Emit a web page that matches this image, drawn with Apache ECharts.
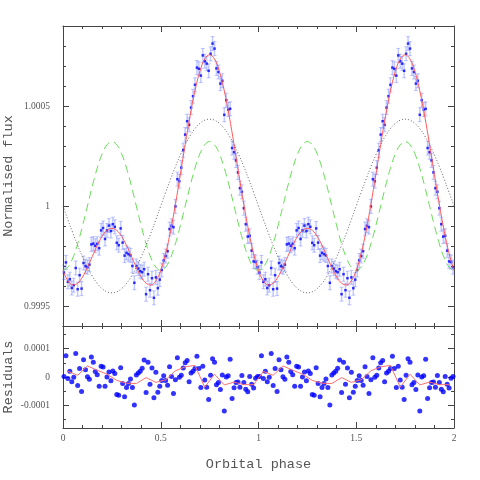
<!DOCTYPE html>
<html>
<head>
<meta charset="utf-8">
<script src="https://cdn.jsdelivr.net/npm/echarts@6/dist/echarts.min.js"></script>
<style>
  html, body { margin: 0; padding: 0; background: #fff; }
  #chart { width: 480px; height: 480px; }
</style>
</head>
<body>
<div id="chart"></div>
<script>
// one orbital cycle (phase 0..1); the plot shows it twice (0..2)
const MODEL_PHASE = [0, 0.025, 0.05, 0.075, 0.1, 0.125, 0.15, 0.175, 0.2, 0.225, 0.25,
  0.275, 0.3, 0.325, 0.35, 0.375, 0.4, 0.425, 0.45, 0.475, 0.5,
  0.525, 0.55, 0.575, 0.6, 0.625, 0.65, 0.675, 0.7, 0.725, 0.75,
  0.775, 0.8, 0.825, 0.85, 0.875, 0.9, 0.925, 0.95, 0.975, 1]

// full model (red)
const MODEL_TOTAL = [0.999678, 0.999626, 0.999605, 0.999614, 0.999645, 0.999693, 0.999748, 0.999803, 0.999848, 0.999878, 0.999888,
  0.999878, 0.999848, 0.999803, 0.999748, 0.999693, 0.999645, 0.999614, 0.999605, 0.999626, 0.999678,
  0.999762, 0.999874, 1.000008, 1.000156, 1.000307, 1.000451, 1.000576, 1.000673, 1.000735, 1.000756,
  1.000735, 1.000673, 1.000576, 1.000451, 1.000307, 1.000156, 1.000008, 0.999874, 0.999762, 0.999678]

// ellipsoidal component (green dashed)
const MODEL_ELLIPSOIDAL = [0.999678, 0.999694, 0.999740, 0.999811, 0.999901, 1.000000, 1.000100, 1.000189, 1.000261, 1.000306, 1.000322,
  1.000306, 1.000261, 1.000189, 1.000100, 1.000000, 0.999901, 0.999811, 0.999740, 0.999694, 0.999678,
  0.999694, 0.999740, 0.999811, 0.999901, 1.000000, 1.000100, 1.000189, 1.000261, 1.000306, 1.000322,
  1.000306, 1.000261, 1.000189, 1.000100, 1.000000, 0.999901, 0.999811, 0.999740, 0.999694, 0.999678]

// reflection / beaming component (black dotted)
const MODEL_REFLECTION = [1.000000, 0.999932, 0.999866, 0.999803, 0.999745, 0.999693, 0.999649, 0.999613, 0.999587, 0.999571, 0.999566,
  0.999571, 0.999587, 0.999613, 0.999649, 0.999693, 0.999745, 0.999803, 0.999866, 0.999932, 1.000000,
  1.000068, 1.000134, 1.000197, 1.000255, 1.000307, 1.000351, 1.000387, 1.000413, 1.000429, 1.000434,
  1.000429, 1.000413, 1.000387, 1.000351, 1.000307, 1.000255, 1.000197, 1.000134, 1.000068, 1.000000]

const DATA_PHASE = [0.005, 0.015, 0.025, 0.035, 0.045, 0.055, 0.065, 0.075, 0.085, 0.095,
  0.105, 0.115, 0.125, 0.135, 0.145, 0.155, 0.165, 0.175, 0.185, 0.195,
  0.205, 0.215, 0.225, 0.235, 0.245, 0.255, 0.265, 0.275, 0.285, 0.295,
  0.305, 0.315, 0.325, 0.335, 0.345, 0.355, 0.365, 0.375, 0.385, 0.395,
  0.405, 0.415, 0.425, 0.435, 0.445, 0.455, 0.465, 0.475, 0.485, 0.495,
  0.505, 0.515, 0.525, 0.535, 0.545, 0.555, 0.565, 0.575, 0.585, 0.595,
  0.605, 0.615, 0.625, 0.635, 0.645, 0.655, 0.665, 0.675, 0.685, 0.695,
  0.705, 0.715, 0.725, 0.735, 0.745, 0.755, 0.765, 0.775, 0.785, 0.795,
  0.805, 0.815, 0.825, 0.835, 0.845, 0.855, 0.865, 0.875, 0.885, 0.895,
  0.905, 0.915, 0.925, 0.935, 0.945, 0.955, 0.965, 0.975, 0.985, 0.995]

const FLUX = [0.999667, 0.999718, 0.999621, 0.999634, 0.999590, 0.999604, 0.999690, 0.999584, 0.999654, 0.999587,
  0.999715, 0.999699, 0.999694, 0.999707, 0.999808, 0.999812, 0.999801, 0.999811, 0.999789, 0.999878,
  0.999890, 0.999835, 0.999878, 0.999902, 0.999875, 0.999909, 0.999896, 0.999816, 0.999804, 0.999888,
  0.999817, 0.999752, 0.999766, 0.999759, 0.999753, 0.999700, 0.999616, 0.999700, 0.999687, 0.999674,
  0.999669, 0.999684, 0.999559, 0.999659, 0.999579, 0.999639, 0.999541, 0.999643, 0.999589, 0.999632,
  0.999680, 0.999728, 0.999750, 0.999774, 0.999885, 0.999901, 0.999894, 0.999998, 1.000134, 1.000124,
  1.000192, 1.000279, 1.000357, 1.000424, 1.000406, 1.000492, 1.000549, 1.000606, 1.000692, 1.000686,
  1.000652, 1.000753, 1.000724, 1.000712, 1.000676, 1.000761, 1.000812, 1.000787, 1.000688, 1.000670,
  1.000612, 1.000626, 1.000456, 1.000529, 1.000482, 1.000486, 1.000290, 1.000269, 1.000228, 1.000168,
  1.000089, 1.000071, 0.999989, 0.999909, 0.999847, 0.999851, 0.999777, 0.999723, 0.999720, 0.999694]

const FLUX_ERR = 0.000035

const RESIDUALS = [0.000002, 0.000075, -0.000005, 0.000020, -0.000017, -0.000001, 0.000083, -0.000030, 0.000030, -0.000051,
  0.000061, 0.000026, 0.000001, -0.000008, 0.000071, 0.000052, 0.000019, 0.000008, -0.000033, 0.000038,
  0.000035, -0.000033, 0.000000, 0.000018, -0.000013, 0.000021, 0.000012, -0.000062, -0.000064, 0.000033,
  -0.000023, -0.000070, -0.000037, -0.000023, -0.000007, -0.000037, -0.000099, 0.000007, 0.000014, 0.000020,
  0.000031, 0.000060, -0.000055, 0.000052, -0.000026, 0.000032, -0.000073, 0.000017, -0.000054, -0.000033,
  -0.000012, 0.000004, -0.000012, -0.000029, 0.000036, 0.000002, -0.000058, -0.000010, 0.000068, -0.000001,
  0.000006, 0.000032, 0.000050, 0.000058, -0.000017, 0.000014, 0.000020, 0.000030, 0.000073, 0.000030,
  -0.000037, 0.000038, -0.000011, -0.000036, -0.000079, 0.000006, 0.000064, 0.000052, -0.000027, -0.000019,
  -0.000044, 0.000007, -0.000120, 0.000000, 0.000004, 0.000063, -0.000076, -0.000038, -0.000019, -0.000018,
  -0.000036, 0.000005, -0.000019, -0.000043, -0.000052, 0.000002, -0.000026, -0.000039, -0.000004, 0.000002]

// binned residuals (0.05 wide bins)
const BIN_PHASE = [0.025, 0.075, 0.125, 0.175, 0.225, 0.275, 0.325, 0.375, 0.425, 0.475,
  0.525, 0.575, 0.625, 0.675, 0.725, 0.775, 0.825, 0.875, 0.925, 0.975]
const BIN_RESIDUALS = [0.000020, 0.000006, 0.000039, 0.000024, 0.000010, -0.000012, -0.000022, -0.000023, -0.000002, -0.000019,
  -0.000010, 0.000022, 0.000036, 0.000041, -0.000036, 0.000010, -0.000028, -0.000018, -0.000027, -0.000027]

const X_LABELS = [0, 0.5, 1, 1.5, 2]
const FLUX_LABELS = [0.9995, 1, 1.0005]
const FLUX_MINOR = [0.9995, 0.9996, 0.9997, 0.9998, 0.9999, 1, 1.0001, 1.0002, 1.0003, 1.0004,
  1.0005, 1.0006, 1.0007, 1.0008]
const RESID_LABELS = [-0.0001, 0, 0.0001]
const RESID_MINOR = [-0.00015, -0.0001, -0.00005, 0, 0.00005, 0.0001, 0.00015]

const FRAME = '#444'
const TEXT = '#555'
const TITLE_FONT = 'Liberation Mono'
const LABEL_FONT = 'Liberation Serif'

// repeat one cycle at phase + 1
const twoCycles = (phases, values, skipFirstRepeat) => {
  const a = phases.map((p, i) => [p, values[i]])
  const b = phases.map((p, i) => [p + 1, values[i]])
  return a.concat(skipFirstRepeat ? b.slice(1) : b)
}

const xAxisFor = (gridIndex, position, withLabels) => ({
  type: 'value', gridIndex, position, min: 0, max: 2, interval: 0.5,
  axisLine: { show: true, onZero: false, lineStyle: { color: FRAME, width: 1 } },
  axisTick: { show: true, inside: true, length: 6, lineStyle: { color: FRAME } },
  minorTick: { show: true, splitNumber: 5, length: 3, lineStyle: { color: FRAME } },
  splitLine: { show: false },
  axisLabel: withLabels
    ? { show: true, customValues: X_LABELS, margin: 5, color: TEXT, fontFamily: LABEL_FONT, fontSize: 9.5, formatter: v => String(v) }
    : { show: false },
  name: withLabels ? 'Orbital phase' : '',
  nameLocation: 'middle', nameGap: 29, nameMoveOverlap: false,
  nameTextStyle: { color: TEXT, fontFamily: TITLE_FONT, fontSize: 13.5 }
})

const yAxesFor = (gridIndex, min, max, major, minor, labels, name) => {
  const base = {
    type: 'value', gridIndex, min, max,
    splitLine: { show: false },
    axisLabel: { show: false },
    axisLine: { show: false, onZero: false }
  }
  const ticks = (vals, len) => ({ show: true, inside: true, length: len, customValues: vals, lineStyle: { color: FRAME } })
  return [
    Object.assign({}, base, {
      position: 'left',
      axisLine: { show: true, onZero: false, lineStyle: { color: FRAME } },
      axisTick: ticks(minor, 3),
      axisLabel: { show: true, customValues: labels, margin: 13, color: TEXT, fontFamily: LABEL_FONT, fontSize: 9.5, formatter: v => String(v) },
      name, nameLocation: 'middle', nameGap: 48, nameMoveOverlap: false,
      nameTextStyle: { color: TEXT, fontFamily: TITLE_FONT, fontSize: 13.5 }
    }),
    Object.assign({}, base, { position: 'left', axisTick: ticks(major, 6) }),
    Object.assign({}, base, {
      position: 'right',
      axisLine: { show: true, onZero: false, lineStyle: { color: FRAME } },
      axisTick: ticks(minor, 3)
    }),
    Object.assign({}, base, { position: 'right', axisTick: ticks(major, 6) })
  ]
}

const errorBars = DATA_PHASE.map((p, i) => [p, FLUX[i] - FLUX_ERR, FLUX[i] + FLUX_ERR])
  .concat(DATA_PHASE.map((p, i) => [p + 1, FLUX[i] - FLUX_ERR, FLUX[i] + FLUX_ERR]))

const chart = echarts.init(document.getElementById('chart'), null, { renderer: 'canvas' })

chart.setOption({
  animation: false,
  backgroundColor: '#fff',
  grid: [
    { left: 63, right: 26, top: 26, height: 300, outerBoundsMode: 'none', containLabel: false },
    { left: 63, right: 26, top: 326, height: 102, outerBoundsMode: 'none', containLabel: false }
  ],
  xAxis: [
    xAxisFor(0, 'bottom', false),
    xAxisFor(0, 'top', false),
    xAxisFor(1, 'bottom', true),
    xAxisFor(1, 'top', false)
  ],
  yAxis: [
    ...yAxesFor(0, 0.9994, 1.0009, FLUX_LABELS, FLUX_MINOR, FLUX_LABELS, 'Normalised flux'),
    ...yAxesFor(1, -0.00018, 0.00018, RESID_LABELS, RESID_MINOR, RESID_LABELS, 'Residuals')
  ],
  series: [
    {
      name: 'ellipsoidal', type: 'line', xAxisIndex: 0, yAxisIndex: 0,
      data: twoCycles(MODEL_PHASE, MODEL_ELLIPSOIDAL, true),
      smooth: 0.4, symbol: 'none',
      lineStyle: { color: '#66dd55', width: 1, type: [8, 5] }
    },
    {
      name: 'reflection', type: 'line', xAxisIndex: 0, yAxisIndex: 0,
      data: twoCycles(MODEL_PHASE, MODEL_REFLECTION, true),
      smooth: 0.4, symbol: 'none',
      lineStyle: { color: '#666', width: 1, type: [1, 2] }
    },
    {
      name: 'errors', type: 'custom', xAxisIndex: 0, yAxisIndex: 0,
      data: errorBars,
      renderItem: (params, api) => {
        const lo = api.coord([api.value(0), api.value(1)])
        const hi = api.coord([api.value(0), api.value(2)])
        const stroke = 'rgba(80,100,255,0.35)'
        return {
          type: 'group',
          children: [
            { type: 'line', shape: { x1: lo[0], y1: lo[1], x2: hi[0], y2: hi[1] }, style: { stroke, lineWidth: 1.5 } },
            { type: 'line', shape: { x1: lo[0] - 2, y1: lo[1], x2: lo[0] + 2, y2: lo[1] }, style: { stroke, lineWidth: 1 } },
            { type: 'line', shape: { x1: hi[0] - 2, y1: hi[1], x2: hi[0] + 2, y2: hi[1] }, style: { stroke, lineWidth: 1 } }
          ]
        }
      }
    },
    {
      name: 'model', type: 'line', xAxisIndex: 0, yAxisIndex: 0,
      data: twoCycles(MODEL_PHASE, MODEL_TOTAL, true),
      smooth: 0.4, symbol: 'none',
      lineStyle: { color: '#ff5a5a', width: 1 }
    },
    {
      name: 'flux', type: 'scatter', xAxisIndex: 0, yAxisIndex: 0,
      data: twoCycles(DATA_PHASE, FLUX, false),
      symbol: 'rect', symbolSize: 2.5,
      itemStyle: { color: '#0000ff' }
    },
    {
      name: 'binned', type: 'line', xAxisIndex: 2, yAxisIndex: 4,
      data: twoCycles(BIN_PHASE, BIN_RESIDUALS, false),
      symbol: 'none',
      lineStyle: { color: '#ff7070', width: 1 }
    },
    {
      name: 'residuals', type: 'scatter', xAxisIndex: 2, yAxisIndex: 4,
      data: twoCycles(DATA_PHASE, RESIDUALS, false),
      symbol: 'circle', symbolSize: 5,
      itemStyle: { color: '#0000ff' }
    }
  ]
})
</script>
</body>
</html>
